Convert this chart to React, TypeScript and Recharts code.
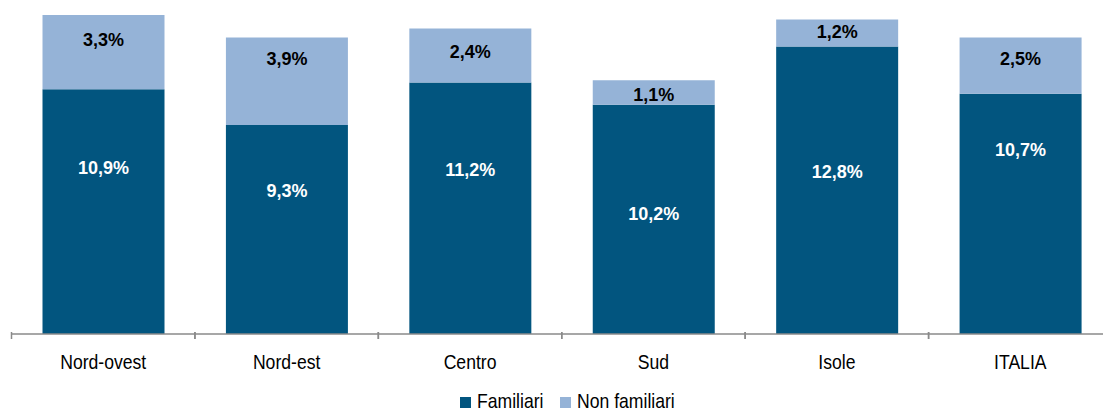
import React from 'react';
import { BarChart, Bar, XAxis, YAxis, Legend, LabelList } from 'recharts';

const categories = ['Nord-ovest', 'Nord-est', 'Centro', 'Sud', 'Isole', 'ITALIA'];
const familiari = [10.9, 9.3, 11.2, 10.2, 12.8, 10.7];
const nonFamiliari = [3.3, 3.9, 2.4, 1.1, 1.2, 2.5];

const seriesNames = ['Familiari', 'Non familiari'];
const colors = ['#02557F', '#95B3D7'];

// label vertical placement (px from bar top), as in the original layout
const darkLabelDy = [79, 66, 88, 109, 126, 56];
const lightLabelDy = [25, 22, 24, 15, 13, 22];

const data = categories.map((c, i) => ({
  name: c,
  familiari: familiari[i],
  nonFamiliari: nonFamiliari[i],
}));

const CHART_W = 1104;
const CHART_H = 404;
const MARGIN = { top: 7, right: 0, bottom: 30, left: 3.5 };
const BAND = (CHART_W - MARGIN.left - MARGIN.right) / categories.length;
const AXIS_Y = CHART_H - MARGIN.bottom - 50;

const fmt = (v: number) => v.toFixed(1).replace('.', ',') + '%';

const makeLabel = (values: number[], dyArr: number[], color: string) => (props: any) => {
  const { x, y, width, index } = props;
  return (
    <text
      x={x + width / 2}
      y={y + dyArr[index]}
      textAnchor="middle"
      dominantBaseline="central"
      fill={color}
      fontFamily="'Liberation Sans', Arial, sans-serif"
      fontWeight="bold"
      fontSize={18}
    >
      {fmt(values[index])}
    </text>
  );
};

const Tick = (props: any) => {
  const { x, payload } = props;
  return (
    <g>
      <line x1={x - BAND / 2} x2={x - BAND / 2} y1={AXIS_Y} y2={AXIS_Y + 7} stroke="#8a8a8a" strokeWidth={1.5} />
      <line x1={x + BAND / 2} x2={x + BAND / 2} y1={AXIS_Y} y2={AXIS_Y + 7} stroke="#8a8a8a" strokeWidth={1.5} />
      <text
        transform={`translate(${x},${AXIS_Y + 37}) scale(0.88,1)`}
        textAnchor="middle"
        fill="#000"
        fontFamily="'Liberation Sans', Arial, sans-serif"
        fontSize={20}
      >
        {payload.value}
      </text>
    </g>
  );
};

const LegendContent = () => {
  const items = [
    { sq: 452, tx: 469 },
    { sq: 552, tx: 569 },
  ];
  return (
    <svg width={CHART_W} height={18} style={{ display: 'block', overflow: 'visible' }}>
      {items.map((it, i) => (
        <g key={i}>
          <rect x={it.sq} y={3} width={11} height={11} fill={colors[i]} />
          <text
            transform={`translate(${it.tx},14) scale(0.88,1)`}
            fill="#000"
            fontFamily="'Liberation Sans', Arial, sans-serif"
            fontSize={20}
          >
            {seriesNames[i]}
          </text>
        </g>
      ))}
    </svg>
  );
};

export default function App() {
  return (
    <div style={{ position: 'fixed', top: 8, left: 8, width: 1095, height: CHART_H, overflow: 'hidden', background: '#fff' }}>
      <BarChart width={CHART_W} height={CHART_H} data={data} margin={MARGIN} barSize={122}>
        <YAxis hide domain={[0, 14.2]} allowDataOverflow />
        <XAxis
          dataKey="name"
          height={30}
          axisLine={{ stroke: '#8a8a8a', strokeWidth: 1.5 }}
          tickLine={false}
          tick={<Tick />}
          interval={0}
        />
        <Legend
          content={<LegendContent />}
          verticalAlign="bottom"
          height={18}
          wrapperStyle={{ top: 386, left: 0, width: CHART_W, height: 18 }}
        />
        <Bar dataKey="familiari" stackId="a" fill={colors[0]} isAnimationActive={false}>
          <LabelList content={makeLabel(familiari, darkLabelDy, '#ffffff')} />
        </Bar>
        <Bar dataKey="nonFamiliari" stackId="a" fill={colors[1]} isAnimationActive={false}>
          <LabelList content={makeLabel(nonFamiliari, lightLabelDy, '#000000')} />
        </Bar>
      </BarChart>
    </div>
  );
}
